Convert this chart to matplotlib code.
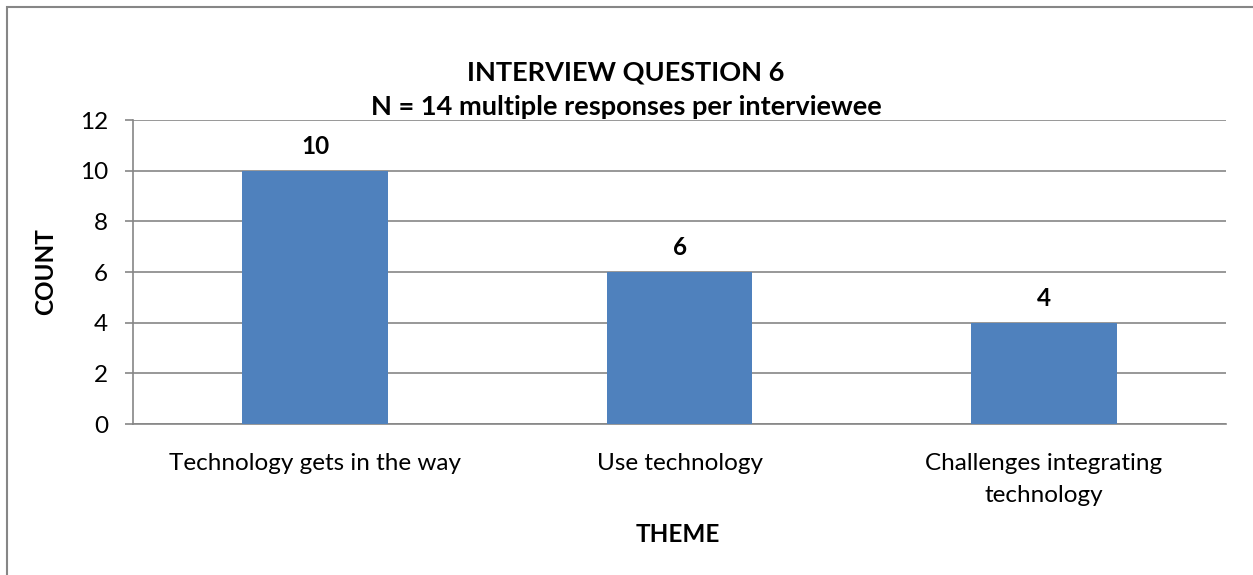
import numpy as np
import matplotlib.pyplot as plt
from matplotlib.patches import Rectangle

plt.rcParams['font.family'] = ['Lato', 'DejaVu Sans']

# data
themes = ['Technology gets in the way', 'Use technology', 'Challenges integrating\ntechnology']
counts = [10, 6, 4]
yticks = [0, 2, 4, 6, 8, 10, 12]

fig = plt.figure(figsize=(12.53, 5.75), dpi=100)
ax = fig.add_axes([0.1061, 0.2626, 0.8724, 0.5287])

x = np.arange(len(themes))
bars = ax.bar(x, counts, width=0.4, color='#4F81BD', zorder=3)
for b, v in zip(bars, counts):
    ax.text(b.get_x() + b.get_width() / 2, v + 0.5, str(v), ha='center', va='bottom',
            fontsize=17.5, fontweight='bold')

ax.set_xlim(-0.5, len(themes) - 0.5)
ax.set_ylim(0, 12)
ax.set_yticks(yticks)
ax.set_yticklabels([str(t) for t in yticks], fontsize=17.5)
ax.set_xticks(x)
ax.set_xticklabels(themes, fontsize=17.5, linespacing=1.65)
ax.tick_params(axis='x', length=0, pad=21)
ax.tick_params(axis='y', length=6, color='#868686', width=1.2, pad=12)
ax.grid(axis='y', color='#868686', linewidth=1.2, zorder=0)
for s in ['top', 'right']:
    ax.spines[s].set_visible(False)
for s in ['left', 'bottom']:
    ax.spines[s].set_color('#868686')
    ax.spines[s].set_linewidth(1.2)

ax.set_ylabel('COUNT', fontsize=17.5, fontweight='bold', labelpad=16)
fig.text(0.5406, 1 - 535 / 575, 'THEME', ha='center', va='center', fontsize=17.5, fontweight='bold')
fig.text(0.4996, 1 - 72 / 575, 'INTERVIEW QUESTION 6', ha='center', va='center',
         fontsize=19.5, fontweight='bold')
fig.text(0.4996, 1 - 107 / 575, 'N = 14 multiple responses per interviewee', ha='center', va='center',
         fontsize=19.5, fontweight='bold')

# chart frame (cut off at right and bottom)
fig.patches.append(Rectangle((7 / 1253, -0.1), 1.2, 1 - 7 / 575 + 0.1, transform=fig.transFigure,
                             fill=False, edgecolor='#868686', linewidth=1.5))

fig.savefig('out.png', dpi=100)
